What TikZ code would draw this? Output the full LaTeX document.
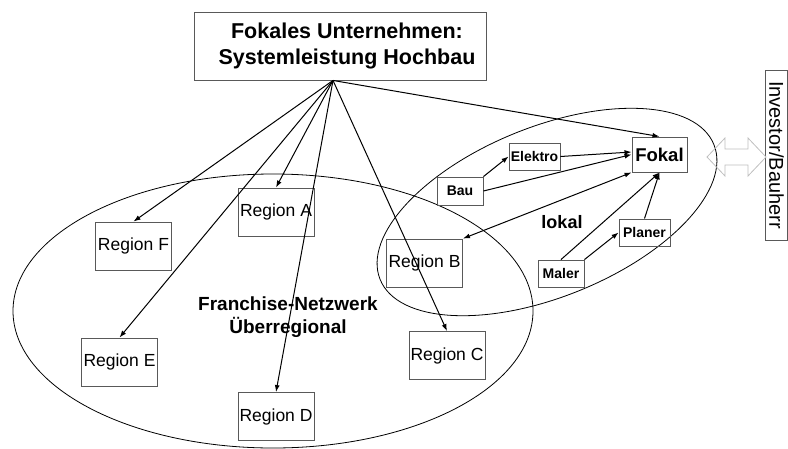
\documentclass[tikz,border=0pt]{standalone}
\usepackage{fontspec}
\setmainfont{Liberation Sans}
\usetikzlibrary{shapes.geometric,arrows.meta}
\tikzset{>={Latex[length=7pt,width=5pt]}}
\tikzset{basic/.style={draw=black!65,fill=none,line width=0.9pt,
                       inner sep=0pt,text badly centered}}
\tikzset{region/.style={basic,minimum width=76,minimum height=48,
                        font=\fontsize{17.5}{20}\selectfont}}
\tikzset{member/.style={basic,minimum height=27,
                        font=\fontsize{14}{16}\selectfont\bfseries}}
\tikzset{zone/.style={draw,ellipse,inner sep=0pt,line width=0.8pt}}
\tikzset{link/.style={->,line width=1pt}}

\begin{document}
\begin{tikzpicture}[x=1pt,y=-1pt]
    \useasboundingbox (0,0) rectangle (788,448);
    % Draw the two network zones
    \node[zone,minimum width=520,minimum height=274] (franchise) at (273,311) {};
    \node[zone,minimum width=360,minimum height=170,rotate=22] (lokalzone) at (547,212) {};
    % Draw the focal company
    \node[basic,minimum width=292,minimum height=68,align=center,
          font=\fontsize{21.5}{26}\selectfont\bfseries] (top) at (340,46)
          {\hspace*{14pt}Fokales Unternehmen:\\\hspace*{14pt}Systemleistung Hochbau};
    \coordinate (hub) at ([xshift=-7]top.south);
    % Draw region nodes
    \foreach \r/\x/\y in {A/276/212,B/424.5/263,C/447/355.5,
                          D/276/416.5,E/119.5/362,F/133.5/246}{%
          \node[region] (r\r) at (\x,\y) {Region \r};
        }
    % Edges from the hub to the regions
    \foreach \r in {A,C,D,E,F}{%
          \draw[link] (hub) -- (r\r.north);
        }
    % Local partners
    \node[member,minimum width=55,minimum height=35,
          font=\fontsize{18.5}{20}\selectfont\bfseries] (fokal) at (659.5,154.5) {Fokal};
    \node[member,minimum width=46,minimum height=28] (bau) at (460,191) {Bau};
    \node[member,minimum width=51] (elektro) at (534.5,156.5) {Elektro};
    \node[member,minimum width=51] (planer) at (644.5,232.5) {Planer};
    \node[member,minimum width=46] (maler) at (561,273.5) {Maler};
    % Edges inside the local zone
    \draw[link] (hub) -- (fokal.north);
    \draw[link] (bau.north east) -- (elektro.west);
    \draw[link] (elektro.east) -- ([yshift=2.5]fokal.west);
    \draw[link] (bau.east) -- (fokal.west);
    \draw[link,<->] (rB.north east) -- (fokal.south west);
    \draw[link] (maler.north) -- (fokal.south);
    \draw[link] (maler.north east) -- (planer.west);
    \draw[link] (planer.north) -- (fokal.south);
    % Labels
    \node[font=\fontsize{18}{20}\selectfont\bfseries] (lokallabel) at (562,222) {lokal};
    \node[align=center,font=\fontsize{19}{23}\selectfont\bfseries] (franchiselabel)
          at (288,317.5) {Franchise-Netzwerk\\Überregional};
    % Investor box and the exchange arrow
    \node[basic,minimum width=170,minimum height=22,rotate=-90,
          font=\fontsize{20}{22}\selectfont] (investor) at (776.5,155) {Investor/Bauherr};
    \draw[black!25,line width=0.8pt] (707,157) -- (725,138) -- (725,149) -- (748,149)
          -- (748,138) -- (766,157) -- (748,176) -- (748,165) -- (725,165)
          -- (725,176) -- cycle;
\end{tikzpicture}
\end{document}
